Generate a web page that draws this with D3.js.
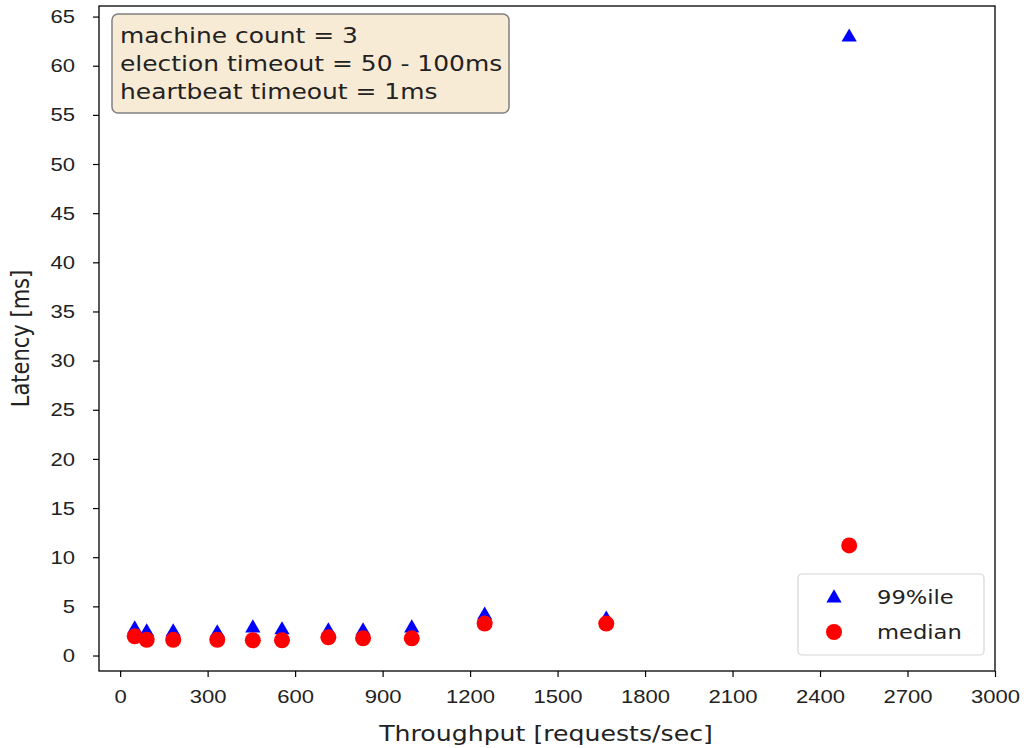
<!DOCTYPE html>
<html>
<head>
<meta charset="utf-8">
<script src="https://cdn.jsdelivr.net/npm/d3@7"></script>
<style>
  body { margin: 0; background: #fff; }
  svg { display: block; font-family: "DejaVu Sans", sans-serif; }
  .tick text { font-size: 19px; fill: #222; }
  .axisText { font-size: 21.7px; fill: #222; }
</style>
</head>
<body>
<div class="chart"></div>
<script>
// data
var throughput = [50, 91, 182, 333, 455, 555, 714, 833, 1000, 1250, 1667, 2500];
var p99 = [2.8, 2.5, 2.5, 2.4, 2.9, 2.7, 2.6, 2.6, 2.9, 4.2, 3.8, 63.0];
var median = [1.95, 1.6, 1.6, 1.6, 1.55, 1.55, 1.85, 1.75, 1.75, 3.25, 3.25, 11.2];
var xTicks = [0, 300, 600, 900, 1200, 1500, 1800, 2100, 2400, 2700, 3000];
var yTicks = [0, 5, 10, 15, 20, 25, 30, 35, 40, 45, 50, 55, 60, 65];
var infoLines = ["machine count = 3", "election timeout = 50 - 100ms", "heartbeat timeout = 1ms"];
var legendItems = [{ label: "99%ile", shape: "triangle", color: "#0000ff" },
                   { label: "median", shape: "circle", color: "#ff0000" }];

var svgWidth = 1026;
var svgHeight = 748;
var margin = { top: 6, right: 31, bottom: 77, left: 99 };
var width = svgWidth - margin.left - margin.right;
var height = svgHeight - margin.top - margin.bottom;
// the picture is a bit wider than tall, so the text is stretched sideways
var sx = 1.16;

var svg = d3.select(".chart")
  .append("svg")
  .attr("width", svgWidth)
  .attr("height", svgHeight);

var chartGroup = svg.append("g")
  .attr("transform", `translate(${margin.left}, ${margin.top})`);

var xScale = d3.scaleLinear().domain([-72.5, 3000]).range([0, width]);
var yScale = d3.scaleLinear().domain([-1.575, 66.075]).range([height, 0]);

var bottomAxis = d3.axisBottom(xScale).tickValues(xTicks).tickFormat(d3.format("d")).tickSize(6).tickPadding(6);
var leftAxis = d3.axisLeft(yScale).tickValues(yTicks).tickFormat(d3.format("d")).tickSize(6).tickPadding(5);

var gx = chartGroup.append("g")
  .attr("transform", `translate(0, ${height})`)
  .call(bottomAxis);
var gy = chartGroup.append("g").call(leftAxis);
[gx, gy].forEach(function (g) {
  g.select(".domain").remove();
  g.selectAll(".tick line").attr("stroke", "#000").attr("stroke-width", 1.2);
});
gx.selectAll(".tick text")
  .attr("y", 19)
  .attr("dy", "0.71em")
  .attr("transform", `scale(${sx}, 1)`);
gy.selectAll(".tick text")
  .attr("x", -24 / sx)
  .attr("transform", `scale(${sx}, 1)`);

// spines
chartGroup.append("rect")
  .attr("width", width)
  .attr("height", height)
  .attr("fill", "none")
  .attr("stroke", "#000")
  .attr("stroke-width", 1.3);

var tri = d3.symbol().type(d3.symbolTriangle).size(100);

chartGroup.selectAll(".p99")
  .data(throughput)
  .enter()
  .append("path")
  .attr("class", "p99")
  .attr("d", tri)
  .attr("transform", (d, i) => `translate(${xScale(d)}, ${yScale(p99[i]) + 1})`)
  .attr("fill", "#0000ff");

chartGroup.selectAll(".med")
  .data(throughput)
  .enter()
  .append("circle")
  .attr("class", "med")
  .attr("cx", d => xScale(d))
  .attr("cy", (d, i) => yScale(median[i]))
  .attr("r", 8)
  .attr("fill", "#ff0000");

// info box
var info = chartGroup.append("g").attr("transform", "translate(13, 8)");
info.append("rect")
  .attr("width", 397)
  .attr("height", 99)
  .attr("rx", 6)
  .attr("fill", "#f8ebd6")
  .attr("stroke", "#808080")
  .attr("stroke-width", 1.5);
info.selectAll("text")
  .data(infoLines)
  .enter()
  .append("text")
  .attr("transform", (d, i) => `translate(8, ${29 + i * 28}) scale(${sx}, 1)`)
  .attr("font-size", 21.5)
  .attr("fill", "#222")
  .text(d => d);

// legend
var legend = chartGroup.append("g").attr("transform", `translate(${width - 197}, ${height - 97})`);
legend.append("rect")
  .attr("width", 186)
  .attr("height", 81)
  .attr("rx", 4)
  .attr("fill", "#fff")
  .attr("fill-opacity", 0.8)
  .attr("stroke", "#d6d6d6")
  .attr("stroke-width", 1.2);
legendItems.forEach(function (item, i) {
  var cy = 23 + i * 35;
  if (item.shape === "triangle") {
    legend.append("path").attr("d", tri).attr("transform", `translate(36, ${cy + 1})`).attr("fill", item.color);
  } else {
    legend.append("circle").attr("cx", 36).attr("cy", cy).attr("r", 8).attr("fill", item.color);
  }
  legend.append("text")
    .attr("transform", `translate(79, ${cy}) scale(${sx}, 1)`)
    .attr("dy", "0.35em")
    .attr("class", "axisText")
    .style("font-size", "19.5px")
    .text(item.label);
});

// axis labels
chartGroup.append("text")
  .attr("class", "axisText")
  .attr("text-anchor", "middle")
  .attr("transform", `translate(${width / 2 - 1}, ${height + 70}) scale(${sx}, 1)`)
  .text("Throughput [requests/sec]");

chartGroup.append("text")
  .attr("class", "axisText")
  .attr("text-anchor", "middle")
  .attr("transform", `translate(${-70}, ${height / 2}) scale(${sx}, 1) rotate(-90)`)
  .style("font-size", "21px")
  .text("Latency [ms]");
</script>
</body>
</html>
